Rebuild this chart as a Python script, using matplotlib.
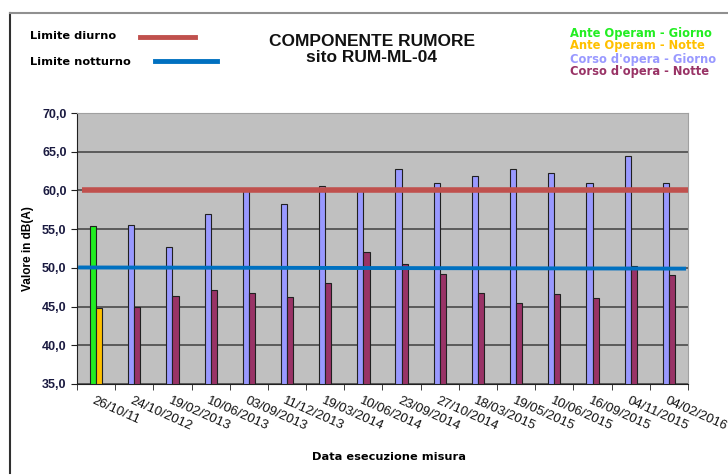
import matplotlib.pyplot as plt
import numpy as np
from matplotlib.lines import Line2D
import matplotlib.transforms as mtransforms

plt.rcParams["font.family"] = ["Liberation Sans", "DejaVu Sans"]

date = ["26/10/11", "24/10/2012", "19/02/2013", "10/06/2013", "03/09/2013",
        "11/12/2013", "19/03/2014", "10/06/2014", "23/09/2014", "27/10/2014",
        "18/03/2015", "19/05/2015", "10/06/2015", "16/09/2015", "04/11/2015",
        "04/02/2016"]
giorno = [55.4, 55.5, 52.7, 57.0, 60.0, 58.2, 60.6, 60.0, 62.8, 60.9,
          61.8, 62.8, 62.3, 60.9, 64.5, 61.0]
notte = [44.8, 44.9, 46.4, 47.2, 46.8, 46.2, 48.0, 52.1, 50.5, 49.2,
         46.8, 45.4, 46.6, 46.1, 50.3, 49.1]
fase = ["ante"] + ["corso"] * 15
limite_diurno = 60.0
limite_notturno = 50.0

col_giorno = {"ante": "#22ee22", "corso": "#9999ff"}
col_notte = {"ante": "#ffc000", "corso": "#993366"}

fig = plt.figure(figsize=(7.28, 4.75), dpi=100)
ax = fig.add_axes([0.1058, 0.1916, 0.8392, 0.5705])
ax.set_facecolor("#c0c0c0")

x = np.arange(len(date))
w = 0.16
for i in x:
    ax.bar(i - w / 2, giorno[i] - 35, w, bottom=35, color=col_giorno[fase[i]],
           edgecolor="#202020", linewidth=0.8, zorder=3)
    ax.bar(i + w / 2, notte[i] - 35, w, bottom=35, color=col_notte[fase[i]],
           edgecolor="#202020", linewidth=0.8, zorder=3)

# linee dei limiti
ax.plot([-0.37, len(date) - 0.5], [limite_diurno] * 2, color="#c0504d", lw=4, zorder=4,
        solid_capstyle="butt")
ax.plot([-0.47, len(date) - 0.55], [limite_notturno + 0.05, limite_notturno - 0.1],
        color="#0070c0", lw=2.8, zorder=4, solid_capstyle="butt")

ax.set_xlim(-0.5, len(date) - 0.5)
ax.set_ylim(35, 70)
ax.set_yticks(np.arange(35, 71, 5))
ax.set_yticklabels([f"{v:.1f}".replace(".", ",") for v in np.arange(35, 71, 5)],
                   fontsize=9, fontweight="bold", color="#1a1a40")
ax.yaxis.grid(True, color="#404040", lw=1.1, zorder=1)
ax.set_axisbelow(True)

ax.set_xticks(np.arange(-0.5, len(date), 1), minor=True)
ax.tick_params(axis="x", which="minor", length=4, color="#202020")
ax.set_xticks(x)
ax.tick_params(axis="x", which="major", length=0, pad=8)
ax.tick_params(axis="y", length=4, color="#202020")
offset = mtransforms.ScaledTranslation(-1 / 100, 0, fig.dpi_scale_trans)
ax.set_xticklabels(date, rotation=-24, ha="left", va="top", rotation_mode="anchor",
                   fontsize=9.5, color="#111111")
for lab in ax.get_xticklabels():
    lab.set_transform(lab.get_transform() + offset)

for s in ["top", "right"]:
    ax.spines[s].set_color("#a0a0a0")
for s in ["left", "bottom"]:
    ax.spines[s].set_color("#202020")

ax.set_ylabel("Valore in dB(A)", fontsize=8.5, fontweight="bold", labelpad=6)
fig.text(0.535, 0.032, "Data esecuzione misura", ha="center", fontsize=8.2,
         fontweight="bold", family="DejaVu Sans")

fig.text(372 / 728, 1 - 42 / 475, "COMPONENTE RUMORE", ha="center", va="center",
         fontsize=12.5, fontweight="bold", color="#111111")
fig.text(372 / 728, 1 - 58 / 475, "sito RUM-ML-04", ha="center", va="center",
         fontsize=12.5, fontweight="bold", color="#111111")

fig.text(30 / 728, 1 - 36 / 475, "Limite diurno", fontsize=8.2, fontweight="bold",
         va="center", family="DejaVu Sans")
fig.text(30 / 728, 1 - 62 / 475, "Limite notturno", fontsize=8.2, fontweight="bold",
         va="center", family="DejaVu Sans")
fig.add_artist(Line2D([140 / 728, 195 / 728], [1 - 37 / 475] * 2, color="#c0504d", lw=3.5))
fig.add_artist(Line2D([155 / 728, 217 / 728], [1 - 61 / 475] * 2, color="#0070c0", lw=3.5))

leg_txt = ["Ante Operam - Giorno", "Ante Operam - Notte",
           "Corso d'opera - Giorno", "Corso d'opera - Notte"]
leg_col = ["#22ee22", "#ffc000", "#9999ff", "#993366"]
for k, (t, c) in enumerate(zip(leg_txt, leg_col)):
    fig.text(570 / 728, 1 - (33 + 13 * k) / 475, t, color=c, fontsize=8.3,
             fontweight="bold", va="center", family="DejaVu Sans")

# cornice del grafico
fig.add_artist(Line2D([10 / 728, 10 / 728], [0.005, 1 - 13 / 475], color="#303030", lw=1.5))
fig.add_artist(Line2D([10 / 728, 1], [1 - 13 / 475] * 2, color="#909090", lw=1.5))

fig.savefig("out.png", dpi=100)
